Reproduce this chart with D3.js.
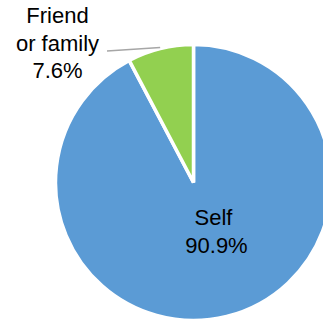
<!DOCTYPE html>
<html>
<head>
<meta charset="utf-8">
<script src="https://cdn.jsdelivr.net/npm/d3@7"></script>
<style>
  html, body { margin: 0; padding: 0; background: #fff; }
  svg { display: block; }
  text { font-family: "Liberation Sans", Arial, sans-serif; fill: #000; }
</style>
</head>
<body>
<svg id="chart" width="323" height="320"></svg>
<script>
// Who the respondent is answering for (share of responses, %)
const categories = ["Self", "Friend or family"];
const shares = [90.9, 7.6];
const labelLines = [["Self", "90.9%"], ["Friend", "or family", "7.6%"]];
const colors = ["#5B9BD5", "#92D050"];

const svg = d3.select("#chart");
const cx = 193.5, cy = 182.5, radius = 138;

const pie = d3.pie().sort(null).value(d => d.value);
const data = pie(categories.map((c, i) => ({ name: c, value: shares[i] })));

const arc = d3.arc().innerRadius(0).outerRadius(radius);
const g = svg.append("g").attr("transform", `translate(${cx},${cy})`);

g.selectAll("path.slice")
  .data(data)
  .join("path")
  .attr("class", "slice")
  .attr("d", arc)
  .attr("fill", (d, i) => colors[i])
  .attr("stroke", "#fff")
  .attr("stroke-width", 3.5)
  .attr("stroke-linejoin", "miter");

// Leader line from the small slice's outer edge to its outside label
const small = data[1];
const mid = (small.startAngle + small.endAngle) / 2;
const edge = [Math.sin(mid) * (radius + 1), -Math.cos(mid) * (radius + 1)];
g.append("line")
  .attr("x1", edge[0]).attr("y1", edge[1])
  .attr("x2", 107 - cx).attr("y2", 51 - cy)
  .attr("stroke", "#a6a6a6")
  .attr("stroke-width", 1.5);

// Inside label for the large slice
const selfLabel = svg.append("text")
  .attr("text-anchor", "middle")
  .attr("font-size", 22);
selfLabel.selectAll("tspan")
  .data(labelLines[0])
  .join("tspan")
  .attr("x", (d, i) => i === 0 ? 213.5 : 216.5)
  .attr("y", (d, i) => 225 + i * 28)
  .text(d => d);

// Outside label for the small slice
const friendLabel = svg.append("text")
  .attr("text-anchor", "middle")
  .attr("font-size", 22);
friendLabel.selectAll("tspan")
  .data(labelLines[1])
  .join("tspan")
  .attr("x", 57.5)
  .attr("y", (d, i) => 23 + i * 27.5)
  .text(d => d);
</script>
</body>
</html>
